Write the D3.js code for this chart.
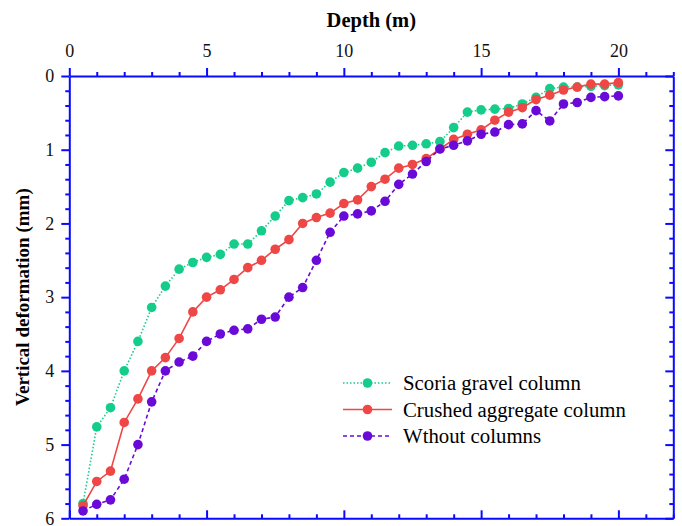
<!DOCTYPE html>
<html><head><meta charset="utf-8">
<script src="https://cdn.jsdelivr.net/npm/d3@7"></script>
<style>body{margin:0;background:#fff}svg{display:block}</style>
</head><body><svg id="c" width="682" height="526"></svg>
<script>
const depth = [0.5,1,1.5,2,2.5,3,3.5,4,4.5,5,5.5,6,6.5,7,7.5,8,8.5,9,9.5,10,10.5,11,11.5,12,12.5,13,13.5,14,14.5,15,15.5,16,16.5,17,17.5,18,18.5,19,19.5,20];
const scoria = [5.80,4.76,4.50,4.00,3.60,3.14,2.85,2.62,2.53,2.46,2.42,2.28,2.28,2.10,1.90,1.69,1.65,1.60,1.44,1.31,1.25,1.17,1.04,0.95,0.94,0.92,0.89,0.70,0.49,0.46,0.45,0.44,0.38,0.29,0.17,0.15,0.15,0.14,0.13,0.12];
const crushed = [5.83,5.50,5.36,4.70,4.38,4.00,3.82,3.56,3.20,3.00,2.90,2.76,2.60,2.50,2.35,2.22,2.00,1.92,1.86,1.73,1.68,1.50,1.40,1.25,1.20,1.12,0.99,0.86,0.79,0.73,0.60,0.49,0.43,0.32,0.26,0.19,0.15,0.11,0.11,0.09];
const without = [5.90,5.81,5.75,5.47,5.00,4.42,4.00,3.88,3.80,3.60,3.50,3.45,3.43,3.30,3.27,3.00,2.87,2.50,2.12,1.90,1.87,1.83,1.70,1.47,1.33,1.16,0.99,0.94,0.88,0.79,0.76,0.66,0.65,0.47,0.61,0.38,0.36,0.29,0.28,0.27];
const seriesNames = ["Scoria gravel column","Crushed aggregate column","Wthout columns"];
const xTicks = [0,5,10,15,20];
const yTicks = [0,1,2,3,4,5,6];

const svg = d3.select("#c");
const L=69.3, R=673.3, T=76, B=518.3;
const x = d3.scaleLinear().domain([0,22]).range([L,R]);
const y = d3.scaleLinear().domain([0,6]).range([T,B]);
const axisColor = "#0a0aff";
const font = "'Liberation Serif','Times New Roman',serif";

const series = [
  {name:seriesNames[0], vals:scoria, color:"#14cd8b", dash:"1.5,2"},
  {name:seriesNames[1], vals:crushed, color:"#ef4646", dash:null},
  {name:seriesNames[2], vals:without, color:"#6a0ad8", dash:"4,3"}
];

function styleAxis(g){
  g.selectAll("path,line").attr("stroke",axisColor).attr("stroke-width",2);
  g.selectAll("text").attr("font-family",font).attr("font-size",18).attr("fill","#111");
}
function minor(g){g.select(".domain").remove();g.selectAll("line").attr("stroke",axisColor).attr("stroke-width",2);}
const xMinor = d3.range(0,23,1).filter(v=>v%5!==0);
const yMinor = d3.range(0,6.01,0.2).filter(v=>Math.abs(v-Math.round(v))>1e-6);

// top axis: ticks outward (up)
const gTop = svg.append("g").attr("transform",`translate(0,${T})`)
  .call(d3.axisTop(x).tickValues(xTicks).tickSize(8).tickSizeOuter(0).tickPadding(11).tickFormat(d3.format("d")));
styleAxis(gTop);
svg.append("g").attr("transform",`translate(0,${T})`)
  .call(d3.axisTop(x).tickValues(xMinor).tickSize(4).tickSizeOuter(0).tickFormat("")).call(minor);
// bottom axis: ticks inward (up)
const gBot = svg.append("g").attr("transform",`translate(0,${B})`)
  .call(d3.axisBottom(x).tickValues(xTicks).tickSize(-8).tickSizeOuter(0).tickFormat(""));
styleAxis(gBot);
svg.append("g").attr("transform",`translate(0,${B})`)
  .call(d3.axisBottom(x).tickValues(xMinor).tickSize(-4).tickSizeOuter(0).tickFormat("")).call(minor);
// left axis: ticks outward (left)
const gLeft = svg.append("g").attr("transform",`translate(${L},0)`)
  .call(d3.axisLeft(y).tickValues(yTicks).tickSize(8).tickSizeOuter(0).tickPadding(7).tickFormat(d3.format("d")));
styleAxis(gLeft);
svg.append("g").attr("transform",`translate(${L},0)`)
  .call(d3.axisLeft(y).tickValues(yMinor).tickSize(4).tickSizeOuter(0).tickFormat("")).call(minor);
// right axis: ticks inward (left)
const gRight = svg.append("g").attr("transform",`translate(${R},0)`)
  .call(d3.axisRight(y).tickValues(yTicks).tickSize(-8).tickSizeOuter(0).tickFormat(""));
styleAxis(gRight);
svg.append("g").attr("transform",`translate(${R},0)`)
  .call(d3.axisRight(y).tickValues(yMinor).tickSize(-4).tickSizeOuter(0).tickFormat("")).call(minor);

// titles
svg.append("text").attr("x",(L+R)/2).attr("y",27).attr("text-anchor","middle")
  .attr("font-family",font).attr("font-weight","bold").attr("font-size",20.5).attr("fill","#000").text("Depth (m)");
svg.append("text").attr("transform",`translate(29,${(T+B)/2}) rotate(-90)`).attr("text-anchor","middle")
  .attr("font-family",font).attr("font-weight","bold").attr("font-size",19).attr("fill","#000").text("Vertical deformation (mm)");

// series
const line = d3.line().x((d,i)=>x(depth[i])).y(d=>y(d));
series.forEach(s=>{
  const g = svg.append("g");
  g.append("path").datum(s.vals).attr("d",line).attr("fill","none")
    .attr("stroke",s.color).attr("stroke-width",1.6).attr("stroke-dasharray",s.dash);
  g.selectAll("circle").data(s.vals).join("circle")
    .attr("cx",(d,i)=>x(depth[i])).attr("cy",d=>y(d)).attr("r",4.8).attr("fill",s.color);
});

// legend
const lg = svg.append("g");
series.forEach((s,i)=>{
  const cy = 383 + i*26.5;
  lg.append("line").attr("x1",343).attr("x2",392).attr("y1",cy).attr("y2",cy)
    .attr("stroke",s.color).attr("stroke-width",1.6).attr("stroke-dasharray",s.dash);
  lg.append("circle").attr("cx",367.5).attr("cy",cy).attr("r",4.8).attr("fill",s.color);
  lg.append("text").attr("x",403).attr("y",cy+7).attr("font-family",font).attr("font-size",20.8)
    .attr("fill","#000").text(s.name);
});
</script></body></html>
